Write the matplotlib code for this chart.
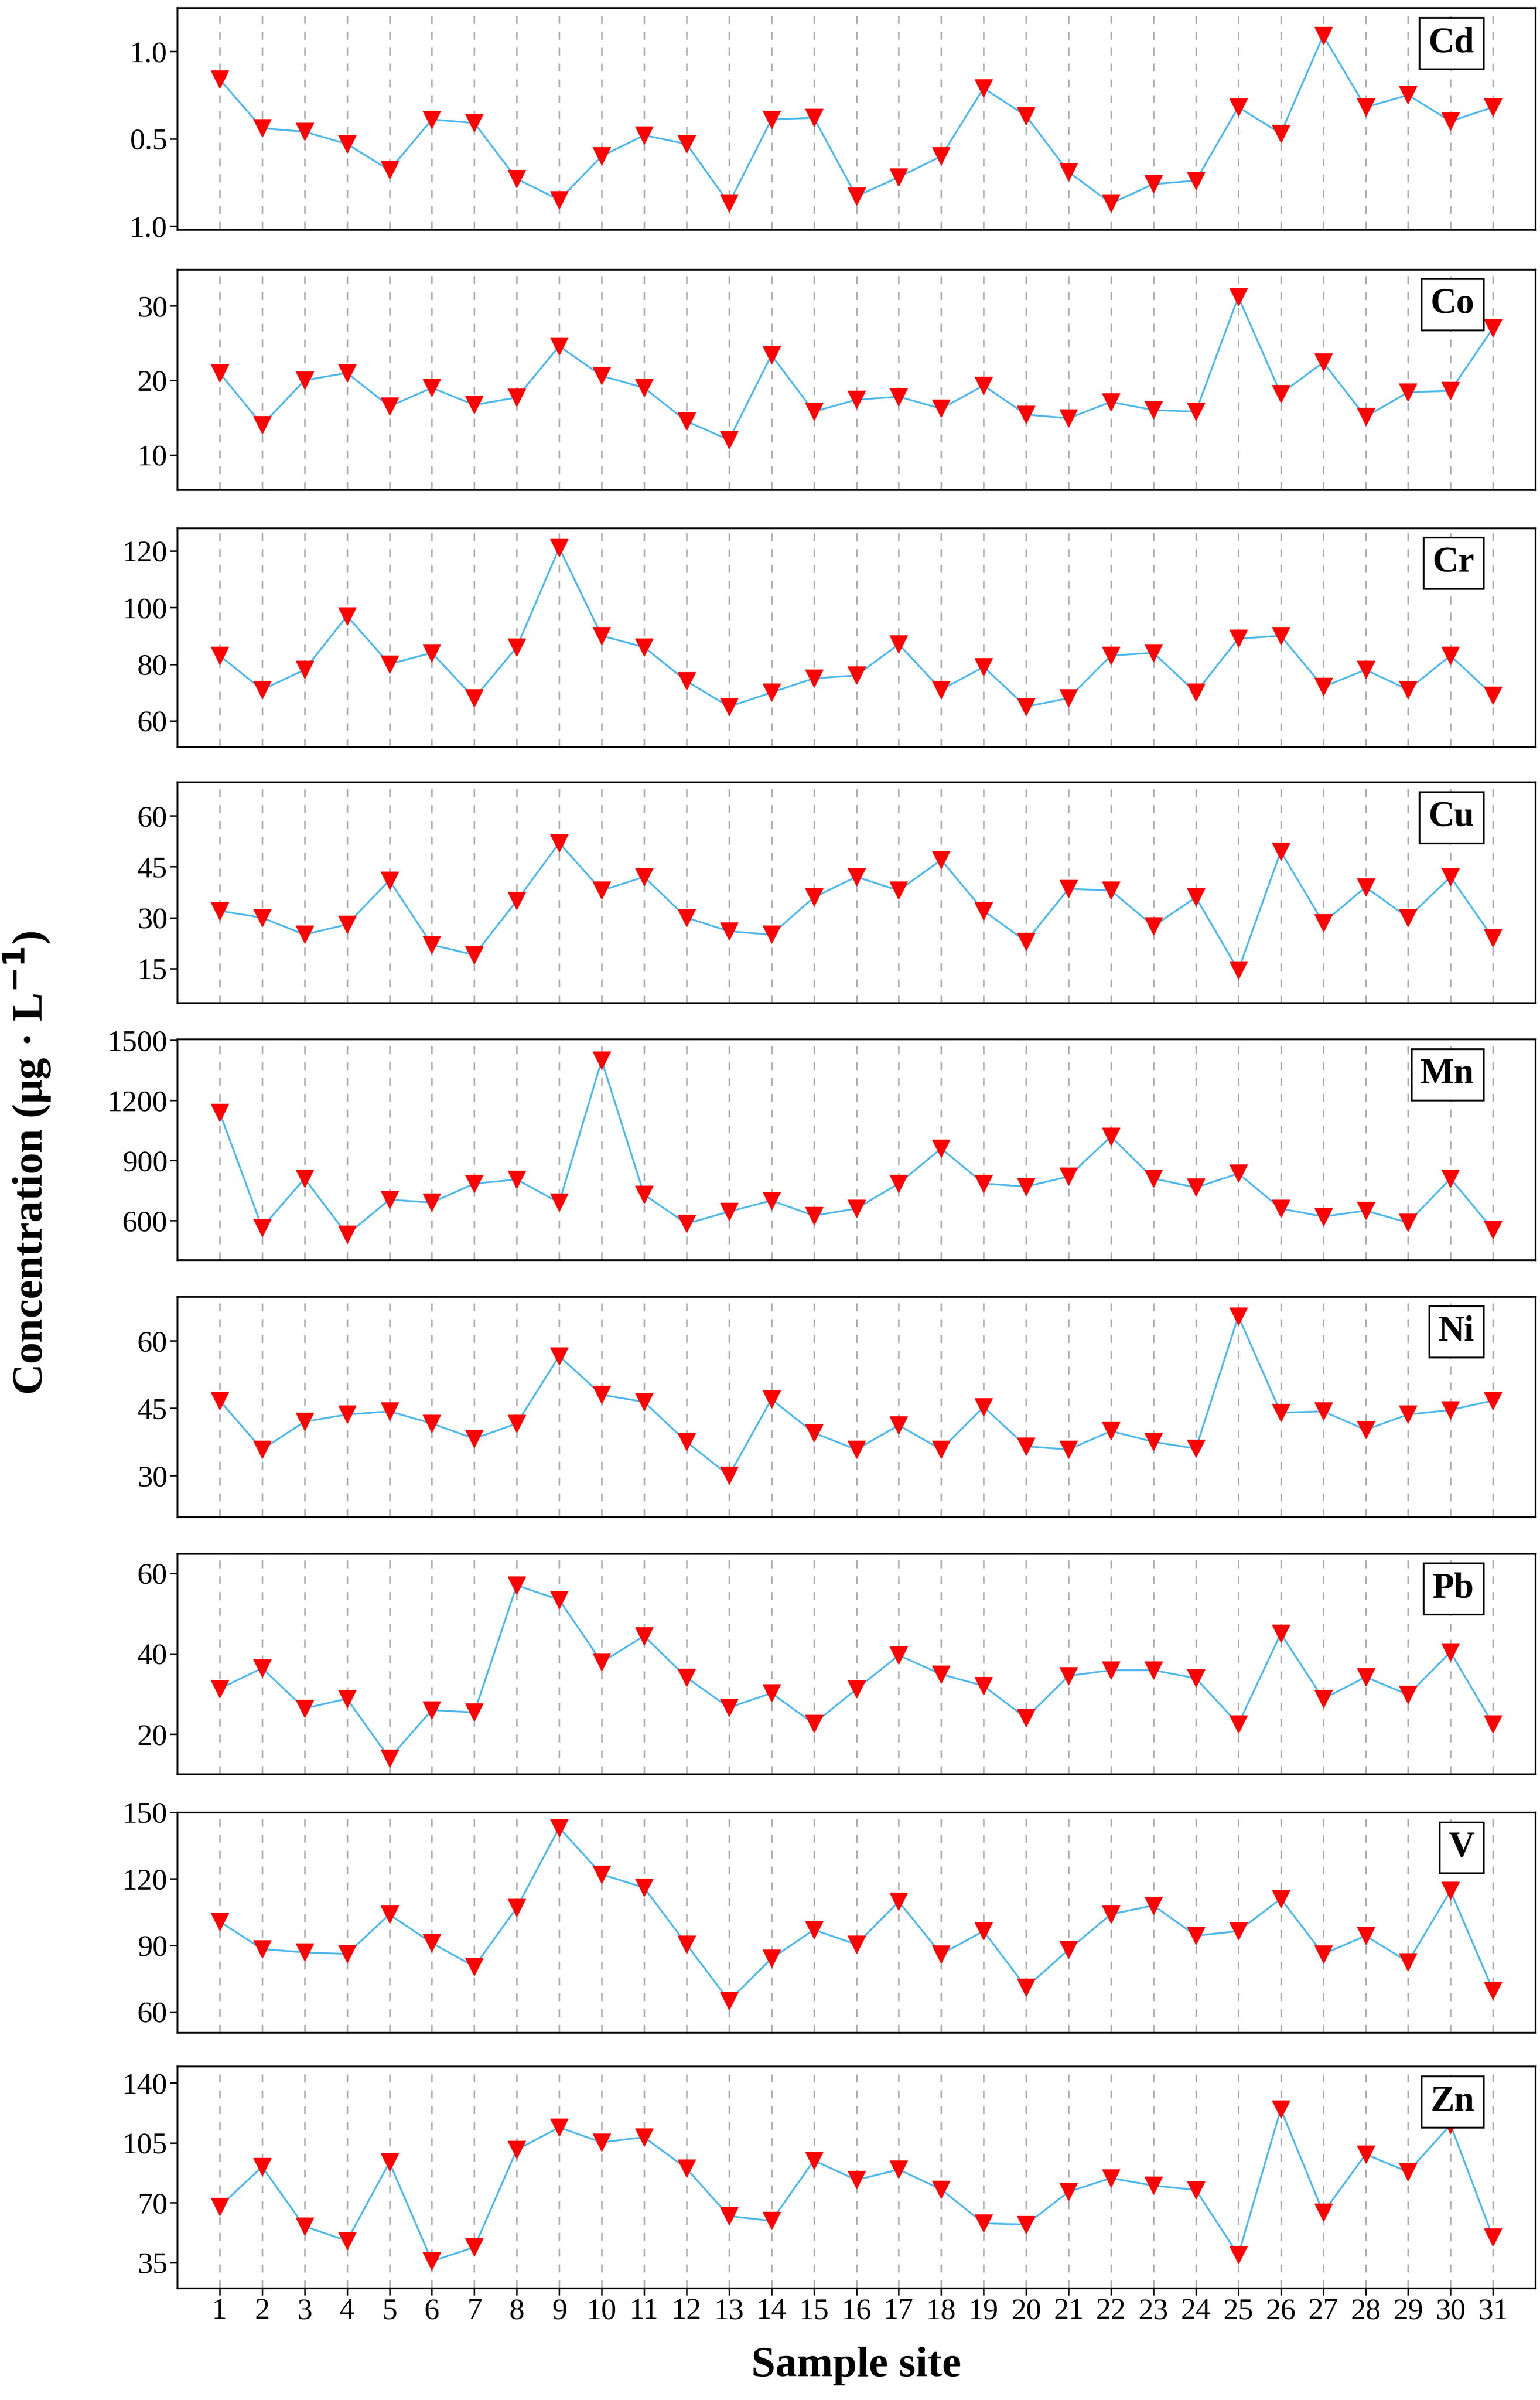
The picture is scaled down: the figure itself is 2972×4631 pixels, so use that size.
import matplotlib
matplotlib.use("Agg")
import matplotlib.pyplot as plt

sites = list(range(1, 32))
elements = ["Cd", "Co", "Cr", "Cu", "Mn", "Ni", "Pb", "V", "Zn"]

Cd = [0.84,0.56,0.54,0.47,0.32,0.61,0.59,0.27,0.15,0.40,0.52,0.47,0.13,0.61,0.62,0.17,0.28,0.40,0.79,0.63,0.31,0.13,0.24,0.26,0.68,0.53,1.09,0.68,0.75,0.60,0.68]
Co = [21,14,20,21,16.5,19,16.7,17.7,24.6,20.6,19,14.5,12,23.4,15.8,17.4,17.8,16.2,19.3,15.4,14.9,17.1,16,15.8,31.2,18.2,22.4,15.1,18.4,18.6,27]
Cr = [83,71,78,97,80,84,68,86,121,90,86,74,65,70,75,76,87,71,79,65,68,83,84,70,89,90,72,78,71,83,69]
Cu = [32,30,25,28,41,22,19,35,52,38,42,30,26,25,36,42,38,47,32,23,38.5,38,27.5,36,14.5,49.5,28.5,39,30,42,24]
Mn = [1140,565,810,530,705,690,785,805,690,1400,730,585,645,700,625,660,785,960,785,770,820,1020,810,765,835,660,620,650,590,810,555]
Ni = [46.7,35.8,42,43.6,44.3,41.6,38.2,41.6,56.6,48,46.4,37.5,30,47,39.5,35.8,41.2,35.8,45.3,36.5,35.8,39.9,37.5,36,65.5,44,44.3,40.2,43.6,44.6,46.7]
Pb = [31.3,36.4,26.4,28.8,14,26,25.4,57,53.4,37.9,44.4,34.1,26.6,30.2,22.6,31.2,39.6,34.9,32,24,34.5,35.9,35.9,33.9,22.5,45,28.8,34.2,29.8,40.4,22.5]
V = [100.7,88.3,86.8,86.1,103.9,91,80.4,107,143,122,116,90.4,65,84,97,90.4,109.7,86,96.4,71,88,104,108,94.3,96.4,111,86,94.3,82.5,114.6,69.6]
Zn = [67.8,91,56.1,47.8,93.6,35.8,44,101,114,105.3,108.3,90,62.2,59.4,94.7,83.3,89.4,77.8,58,57.2,76.4,84.4,80,77.5,39.4,124.7,64.2,98.3,88,115.6,49.7]

series = [Cd, Co, Cr, Cu, Mn, Ni, Pb, V, Zn]
yticks = [[1.0,0.5,0.0],[30,20,10],[120,100,80,60],[60,45,30,15],[1500,1200,900,600],[60,45,30],[60,40,20],[150,120,90,60],[140,105,70,35]]
ytlabels = [["1.0","0.5","1.0"],None,None,None,None,None,None,None,None]
ylims = [(-0.02,1.25),(5.3,34.9),(50.8,128),(5,69.9),(405,1505),(20.8,69.9),(10.1,64.9),(50.6,150),(20,149.7)]
panels = [(5,150),(176,320),(345,488),(511,655),(679,823),(847,991),(1015,1159),(1184,1328),(1350,1495)]

plt.rcParams["font.family"] = "Liberation Serif"
H = 1568.0
fig = plt.figure(figsize=(29.72, 46.31), dpi=100)
left, right = 116/1008, 1005/1008
for i, (el, vals) in enumerate(zip(elements, series)):
    t, b = panels[i]
    ax = fig.add_axes([left, 1 - b/H, right-left, (b-t)/H])
    for s in sites:
        ax.axvline(s, color="#b0b0b0", ls=(0,(5,5)), lw=2.2, zorder=0)
    ax.plot(sites, vals, color="#4db8ec", lw=2.5, zorder=2)
    ax.plot(sites, vals, ls="none", marker="v", color="#ff0000", ms=24, zorder=3)
    ax.set_xlim(0, 32)
    ax.set_ylim(*ylims[i])
    ax.set_yticks(yticks[i])
    if ytlabels[i]:
        ax.set_yticklabels(ytlabels[i])
    ax.tick_params(axis="y", labelsize=42, length=10, width=2)
    ax.set_xticks(sites)
    if i == len(elements)-1:
        ax.tick_params(axis="x", labelsize=42, length=10, width=2)
        ax.set_xlabel("Sample site", fontsize=60, fontweight="bold", labelpad=30)
    else:
        ax.tick_params(axis="x", labelbottom=False, length=0)
    for sp in ax.spines.values():
        sp.set_linewidth(2.5)
    ax.text(0.955, 0.84, el, transform=ax.transAxes, ha="right", va="center",
            fontsize=50, fontweight="bold",
            bbox=dict(boxstyle="square,pad=0.25", fc="white", ec="black", lw=2.5))

fig.text(0.018, 1 - 760/H, "Concentration (μg · L$^{\\mathbf{-1}}$)", rotation=90,
         ha="center", va="center", fontsize=60, fontweight="bold")
fig.savefig("out.png", dpi=100)
